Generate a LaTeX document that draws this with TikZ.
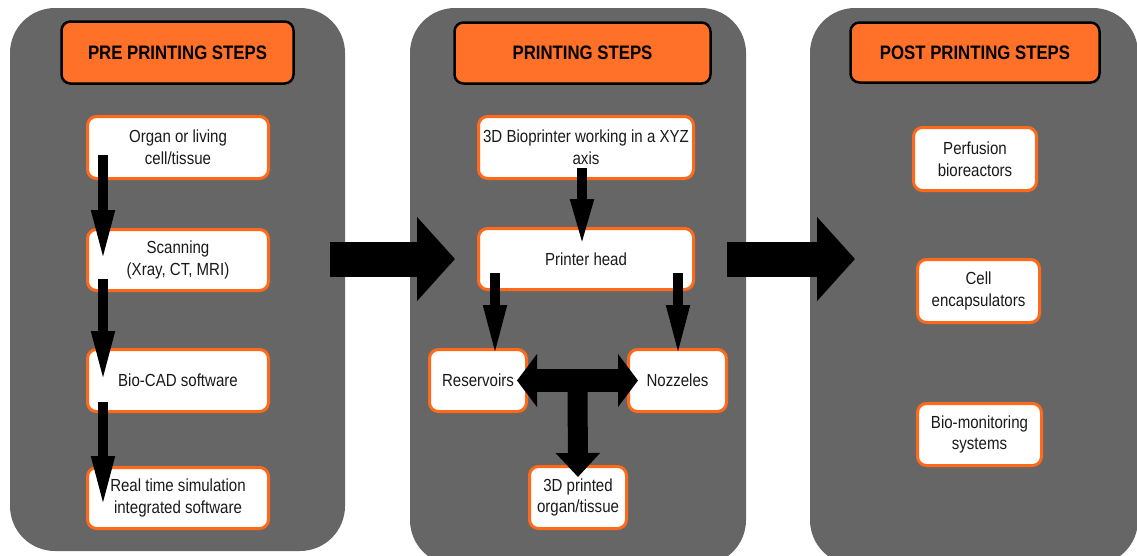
\documentclass[tikz,border=0pt]{standalone}
\usepackage{fontspec}
\setmainfont[FakeStretch=0.86]{Liberation Sans}
\usetikzlibrary{arrows.meta,calc}
\definecolor{panelgray}{HTML}{666666}
\definecolor{hdrorange}{HTML}{FF7029}
\definecolor{bdrorange}{HTML}{FF6A1A}
\definecolor{txt}{HTML}{1A1A1A}
\tikzset{
  panel/.style={fill=panelgray, draw=none, rounded corners=45pt, inner sep=0pt},
  header/.style={fill=hdrorange, draw=black, line width=2.5pt, rounded corners=9pt,
    inner sep=0pt, text=black, font=\fontsize{19.5}{22}\selectfont\bfseries},
  stepbox/.style={fill=white, draw=bdrorange, line width=3pt, rounded corners=9pt,
    inner sep=0pt, align=center, text=txt, font=\fontsize{17.5}{21.7}\selectfont},
  sarrow/.style={draw=black, line width=10pt, -{Triangle[width=21pt,length=52pt]}},
  bigarrow/.style={draw=black, line width=35pt, -{Triangle[width=82pt,length=38pt]}},
  dblarrow/.style={draw=black, line width=23pt,
    {Triangle[width=52pt,length=20pt]}-{Triangle[width=52pt,length=20pt]}},
  stemarrow/.style={draw=black, line width=20pt, -{Triangle[width=43pt,length=24pt]}},
}
\begin{document}
\begin{tikzpicture}[x=1pt,y=-1pt]
\useasboundingbox (0,0) rectangle (1137,555);
\clip (0,0) rectangle (1137,555);
\fill[white] (0,0) rectangle (1137,555);
% panels
\node[panel, minimum width=335pt, minimum height=543pt] (p1) at (177.5,279.5) {};
\node[panel, minimum width=336pt, minimum height=557pt] (p2) at (578,286.5) {};
\node[panel, minimum width=328pt, minimum height=557pt] (p3) at (974,286.5) {};
% headers
\node[header, minimum width=232pt, minimum height=62pt] (h1) at (177.5,52.5) {PRE PRINTING STEPS};
\node[header, minimum width=256pt, minimum height=61pt] (h2) at (582.5,53) {PRINTING STEPS};
\node[header, minimum width=249pt, minimum height=60pt] (h3) at (975,52.5) {POST PRINTING STEPS};
% panel 1 boxes
\node[stepbox, minimum width=181pt, minimum height=62pt] (o1) at (178,147.5) {Organ or living\\cell/tissue};
\node[stepbox, minimum width=181pt, minimum height=61pt] (o2) at (178,260) {Scanning\\(Xray, CT, MRI)};
\node[stepbox, minimum width=181pt, minimum height=62pt] (o3) at (178,380.5) {Bio-CAD software};
\node[stepbox, minimum width=181pt, minimum height=61pt] (o4) at (178,498) {Real time simulation\\integrated software};
% panel 2 boxes
\node[stepbox, minimum width=215pt, minimum height=62pt] (b1) at (586,147.5) {3D Bioprinter working in a XYZ\\axis};
\node[stepbox, minimum width=215pt, minimum height=61pt] (b2) at (586,259) {Printer head};
\node[stepbox, minimum width=97pt, minimum height=62pt] (res) at (478,380.5) {Reservoirs};
\node[stepbox, minimum width=98pt, minimum height=62pt] (noz) at (677.5,380.5) {Nozzeles};
\node[stepbox, minimum width=97pt, minimum height=62pt] (pr) at (578,497.5) {3D printed\\organ/tissue};
% panel 3 boxes
\node[stepbox, minimum width=123pt, minimum height=63pt] (q1) at (975,159) {Perfusion\\bioreactors};
\node[stepbox, minimum width=122pt, minimum height=63pt] (q2) at (978.5,291) {Cell\\encapsulators};
\node[stepbox, minimum width=124pt, minimum height=62pt] (q3) at (979.5,434.5) {Bio-monitoring\\systems};
% panel 1 arrows
\draw[sarrow] ($(o1.south west)+(17,-25)$) -- ($(o2.north west)+(17,34)$);
\draw[sarrow] ($(o2.south west)+(17,-13)$) -- ($(o3.north west)+(17,35)$);
\draw[sarrow] ($(o3.south west)+(17,-11)$) -- ($(o4.north west)+(17,42)$);
% panel 2 arrows
\draw[sarrow, -{Triangle[width=21pt,length=48pt]}] ($(b1.south)+(-4,-12)$) -- ($(b2.north)+(-4,20)$);
\draw[sarrow] ($(b2.south west)+(18,-18)$) -- ($(res.north)+(17,9)$);
\draw[sarrow] ($(b2.south east)+(-17,-18)$) -- ($(noz.north)+(0.5,9)$);
\draw[stemarrow] ($(res.east)!0.5!(noz.west)$) -- ($(pr.north)+(0,12)$);
\draw[dblarrow] ($(res.east)+(-11,0)$) -- ($(noz.west)+(11,0)$);
% big arrows between panels
\draw[bigarrow] ($(o2.east)+(60,-1)$) -- ($(b2.west)+(-22,0)$);
\draw[bigarrow] ($(b2.east)+(32,0)$) -- ($(q2.west)+(-61,-32)$);
\end{tikzpicture}
\end{document}
